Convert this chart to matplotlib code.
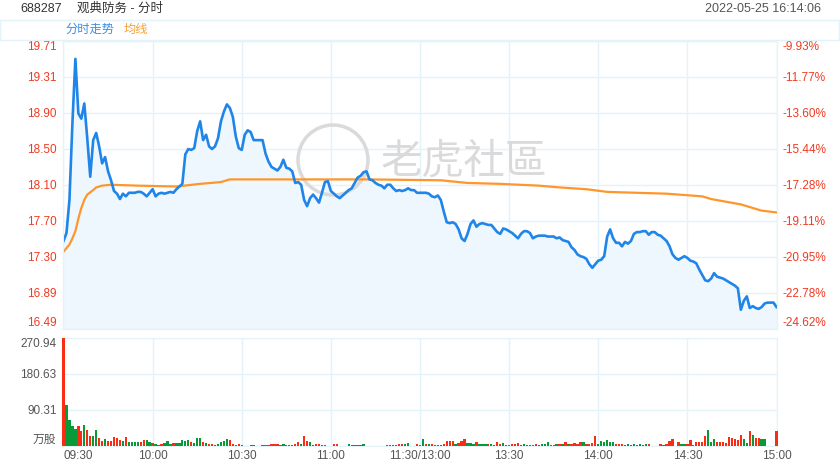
import matplotlib
matplotlib.use("Agg")
import numpy as np
import matplotlib.pyplot as plt
from matplotlib.patches import Rectangle, Ellipse

plt.rcParams['font.family'] = ['Liberation Sans', 'Noto Sans CJK SC', 'DejaVu Sans']

# header texts
stock_code = "688287"
stock_name = "观典防务 - 分时"
stamp = "2022-05-25 16:14:06"
legend_names = ["分时走势", "均线"]

# axis labels
time_labels = ["09:30", "10:00", "10:30", "11:00", "11:30/13:00", "13:30", "14:00", "14:30", "15:00"]
price_labels = ["16.49", "16.89", "17.30", "17.70", "18.10", "18.50", "18.90", "19.31", "19.71"]
pct_labels = ["-24.62%", "-22.78%", "-20.95%", "-19.11%", "-17.28%", "-15.44%", "-13.60%", "-11.77%", "-9.93%"]
vol_labels = ["万股", "90.31", "180.63", "270.94"]
price_low, price_high = 16.49, 19.71
vol_high = 270.94

# minute price, 09:30 .. 11:30 then 13:01 .. 15:00
price = [
    17.47, 17.56, 17.93, 18.79, 19.51, 18.90, 18.84, 19.01, 18.62, 18.19,
    18.60, 18.68, 18.53, 18.34, 18.41, 18.25, 18.15, 18.03, 18.00, 17.94,
    18.00, 17.97, 18.01, 18.01, 18.01, 18.02, 18.02, 18.00, 17.97, 18.01,
    18.05, 17.97, 18.00, 18.01, 18.00, 18.01, 18.02, 18.01, 18.05, 18.08,
    18.11, 18.44, 18.50, 18.49, 18.51, 18.70, 18.81, 18.60, 18.66, 18.53,
    18.50, 18.53, 18.62, 18.81, 18.92, 19.00, 18.96, 18.86, 18.64, 18.51,
    18.49, 18.66, 18.71, 18.69, 18.60, 18.60, 18.60, 18.60, 18.45, 18.36,
    18.30, 18.28, 18.26, 18.30, 18.38, 18.29, 18.28, 18.25, 18.12, 18.13,
    18.10, 17.93, 17.86, 17.95, 17.99, 17.95, 17.90, 18.01, 18.13, 18.14,
    18.03, 18.00, 17.97, 17.95, 17.98, 18.01, 18.04, 18.06, 18.12, 18.18,
    18.20, 18.24, 18.25, 18.16, 18.15, 18.12, 18.10, 18.09, 18.06, 18.10,
    18.10, 18.06, 18.03, 18.04, 18.03, 18.04, 18.06, 18.04, 18.04, 18.01,
    18.01,
    18.01, 18.01, 18.00, 17.97, 17.96, 17.98, 17.93, 17.80, 17.68, 17.67,
    17.68, 17.66, 17.60, 17.50, 17.47, 17.55, 17.66, 17.70, 17.63, 17.66,
    17.67, 17.66, 17.65, 17.65, 17.61, 17.57, 17.55, 17.61, 17.60, 17.58,
    17.56, 17.53, 17.50, 17.55, 17.58, 17.58, 17.56, 17.50, 17.52, 17.53,
    17.53, 17.53, 17.52, 17.52, 17.52, 17.50, 17.51, 17.48, 17.47, 17.46,
    17.40, 17.37, 17.32, 17.30, 17.29, 17.27, 17.21, 17.17, 17.21, 17.25,
    17.26, 17.30, 17.52, 17.60, 17.50, 17.45, 17.45, 17.41, 17.46, 17.44,
    17.47, 17.55, 17.57, 17.57, 17.58, 17.58, 17.54, 17.57, 17.57, 17.54,
    17.53, 17.50, 17.47, 17.41, 17.32, 17.28, 17.26, 17.28, 17.30, 17.28,
    17.25, 17.24, 17.22, 17.15, 17.09, 17.03, 17.02, 17.05, 17.11, 17.07,
    17.06, 17.05, 17.03, 17.01, 16.99, 16.97, 16.94, 16.70, 16.80, 16.85,
    16.72, 16.74, 16.72, 16.71, 16.73, 16.77, 16.78, 16.78, 16.78, 16.73,
]

# average price line, read at these minutes
avg_minute = [0, 2, 3, 4, 5, 6, 7, 8, 10, 11, 13, 16, 25, 38, 46, 53, 56, 65, 80, 102,
              127, 136, 147, 160, 167, 176, 183, 203, 215, 218, 228, 235, 240]
avg_price = [17.35, 17.43, 17.50, 17.58, 17.72, 17.84, 17.93, 17.99, 18.04, 18.07,
             18.09, 18.10, 18.09, 18.08, 18.11, 18.13, 18.16, 18.16, 18.16, 18.16,
             18.15, 18.12, 18.11, 18.09, 18.07, 18.05, 18.02, 18.00, 17.97, 17.94,
             17.88, 17.81, 17.79]

# volume (万股) per minute, r = up, g = down
volume = [
    270.94, 104, 66, 50, 42, 49, 38, 53, 40, 25,
    25, 40, 20, 13, 17, 12, 12, 23, 21, 15,
    13, 22, 11, 11, 11, 11, 10, 16, 14, 9,
    7, 5, 2, 6, 7, 12, 6, 8, 7, 7,
    15, 13, 16, 9, 7, 19, 20, 10, 7, 5,
    5, 3, 5, 11, 12, 18, 15, 6, 3, 5,
    2, 1, 1, 2, 3, 1, 1, 2, 2, 3,
    5, 5, 6, 3, 4, 2, 2, 2, 4, 9,
    4, 25, 12, 9, 3, 5, 6, 3, 3, 1,
    1, 6, 4, 1, 1, 1, 4, 2, 2, 2,
    2, 5, 1, 1, 1, 1, 1, 1, 1, 2,
    3, 2, 3, 4, 4, 4, 8, 1, 1, 6,
    2,
    18, 6, 6, 6, 2, 3, 3, 5, 12, 12,
    12, 6, 7, 12, 18, 8, 8, 5, 9, 4,
    5, 4, 6, 4, 3, 10, 5, 7, 2, 2,
    5, 6, 7, 3, 6, 3, 2, 2, 4, 3,
    4, 4,
    11, 3, 3, 6, 6, 5, 10, 4, 6, 8,
    6, 10, 10, 6, 6, 8, 25, 5, 13, 10,
    15, 11, 10, 6, 5, 4, 2, 4,
    3, 5, 2, 4, 3, 5, 5, 1, 1, 1,
    6, 3, 4, 12, 17, 1, 10, 5, 6, 5,
    15, 3, 10, 10, 10, 25, 40, 10, 18, 9,
    11, 11, 7, 22, 19, 17, 16, 27, 18, 8,
    38, 27, 21, 20, 18, 18, 1, 0, 0, 38,
]
vol_dir = ("rggggrrgrr" "ggrrgrrrrr" "grggggrrgg" "rggrgggrgg" "gggrgggrgr" "rgggggrrrr"
           "rgrgrrggrr" "rrrggrrrrr" "grrggrrggg" "grrgrrgggg" "ggrrrrrrrg" "grrrrggrrr" "r"
           "grgrgggrrr" "rgrrrgggrg" "ggrggrrggr" "rrrggrgrrg" "gg"
           "grrgrgrgrr" "rrgrrrrggg" "gggrrrgg" "ggggggrgrr" "rrrrrrrggr" "rrrrrrgggr"
           "rrrrrrrrgg" "rgrrgggggr")

minutes = np.arange(len(price))
red = '#fa2d12'
green = '#089a38'
grid_c = '#e4f2fa'


def px(l, t, r, b):
    return [l / 840, 1 - b / 470, (r - l) / 840, (b - t) / 470]


fig = plt.figure(figsize=(8.4, 4.7), dpi=100)

# price panel
ax = fig.add_axes(px(63.5, 41, 776.5, 328.5))
ax.set_xlim(0, 240)
ax.set_ylim(price_low, price_high)
pticks = np.linspace(price_low, price_high, len(price_labels))
ax.set_yticks(pticks)
ax.set_yticklabels(price_labels)
ax.set_xticks(np.arange(0, 241, 30))
ax.set_xticklabels([])
ax.grid(True, color=grid_c, lw=1)
ax.set_axisbelow(True)
ax.tick_params(length=0, labelsize=8.5, labelcolor='#f03a22', pad=5)
for s in ax.spines.values():
    s.set_color(grid_c)
labs = ax.get_yticklabels()
labs[0].set_va('bottom')
labs[-1].set_va('top')

ax.fill_between(minutes, price, price_low, color='#edf7fd', lw=0, zorder=1)
ax.plot(avg_minute, avg_price, color='#ff962b', lw=1.6, zorder=3)
ax.plot(minutes, price, color='#2085e8', lw=1.9, zorder=4)

axr = ax.twinx()
axr.set_ylim(price_low, price_high)
axr.set_yticks(pticks)
axr.set_yticklabels(pct_labels)
axr.tick_params(length=0, labelsize=8.5, labelcolor='#f03a22', pad=4)
for s in axr.spines.values():
    s.set_color(grid_c)
labs = axr.get_yticklabels()
labs[0].set_va('bottom')
labs[-1].set_va('top')

# watermark
ax.add_patch(Ellipse((333 / 840, 1 - 160 / 470), 70 / 840, 70 / 470, transform=fig.transFigure,
                     fill=False, edgecolor='#dadada', lw=2.5, zorder=2))
ax.text(464 / 840, 1 - 162 / 470, "老虎社區", transform=fig.transFigure, fontsize=30,
        color='#dadada', ha='center', va='center', family=['Noto Sans CJK TC'], zorder=2)

# volume panel
axv = fig.add_axes(px(63.5, 338, 776.5, 446))
axv.set_xlim(0, 240)
axv.set_ylim(0, vol_high)
colors = [red if c == 'r' else green for c in vol_dir]
axv.bar(minutes, volume, width=0.78, color=colors, lw=0, clip_on=False, zorder=3)
axv.set_yticks(np.linspace(0, vol_high, len(vol_labels)))
axv.set_yticklabels(vol_labels)
axv.set_xticks(np.arange(0, 241, 30))
axv.set_xticklabels(time_labels)
axv.grid(True, color=grid_c, lw=1)
axv.set_axisbelow(True)
axv.tick_params(length=0, labelsize=8.5, labelcolor='#555555')
axv.tick_params(axis='y', pad=5)
axv.tick_params(axis='x', pad=3)
for s in axv.spines.values():
    s.set_color(grid_c)
labs = axv.get_yticklabels()
labs[0].set_va('bottom')
labs[-1].set_va('top')
axv.get_xticklabels()[0].set_ha('left')

# header and legend row
fig.text(20 / 840, 1 - 9 / 470, stock_code, fontsize=9, color='#333333', va='center')
fig.text(77 / 840, 1 - 9 / 470, stock_name, fontsize=9, color='#333333', va='center')
fig.text(821 / 840, 1 - 9 / 470, stamp, fontsize=9, color='#555555', va='center', ha='right')
fig.add_artist(Rectangle((0, 1 - 40 / 470), 839 / 840, 20 / 470, transform=fig.transFigure,
                         fill=False, edgecolor=grid_c, lw=1))
fig.text(65 / 840, 1 - 30 / 470, legend_names[0], fontsize=8.8, color='#3b8de2', va='center')
fig.text(124 / 840, 1 - 30 / 470, legend_names[1], fontsize=8.8, color='#f7a035', va='center')

fig.savefig("out.png", dpi=100)
